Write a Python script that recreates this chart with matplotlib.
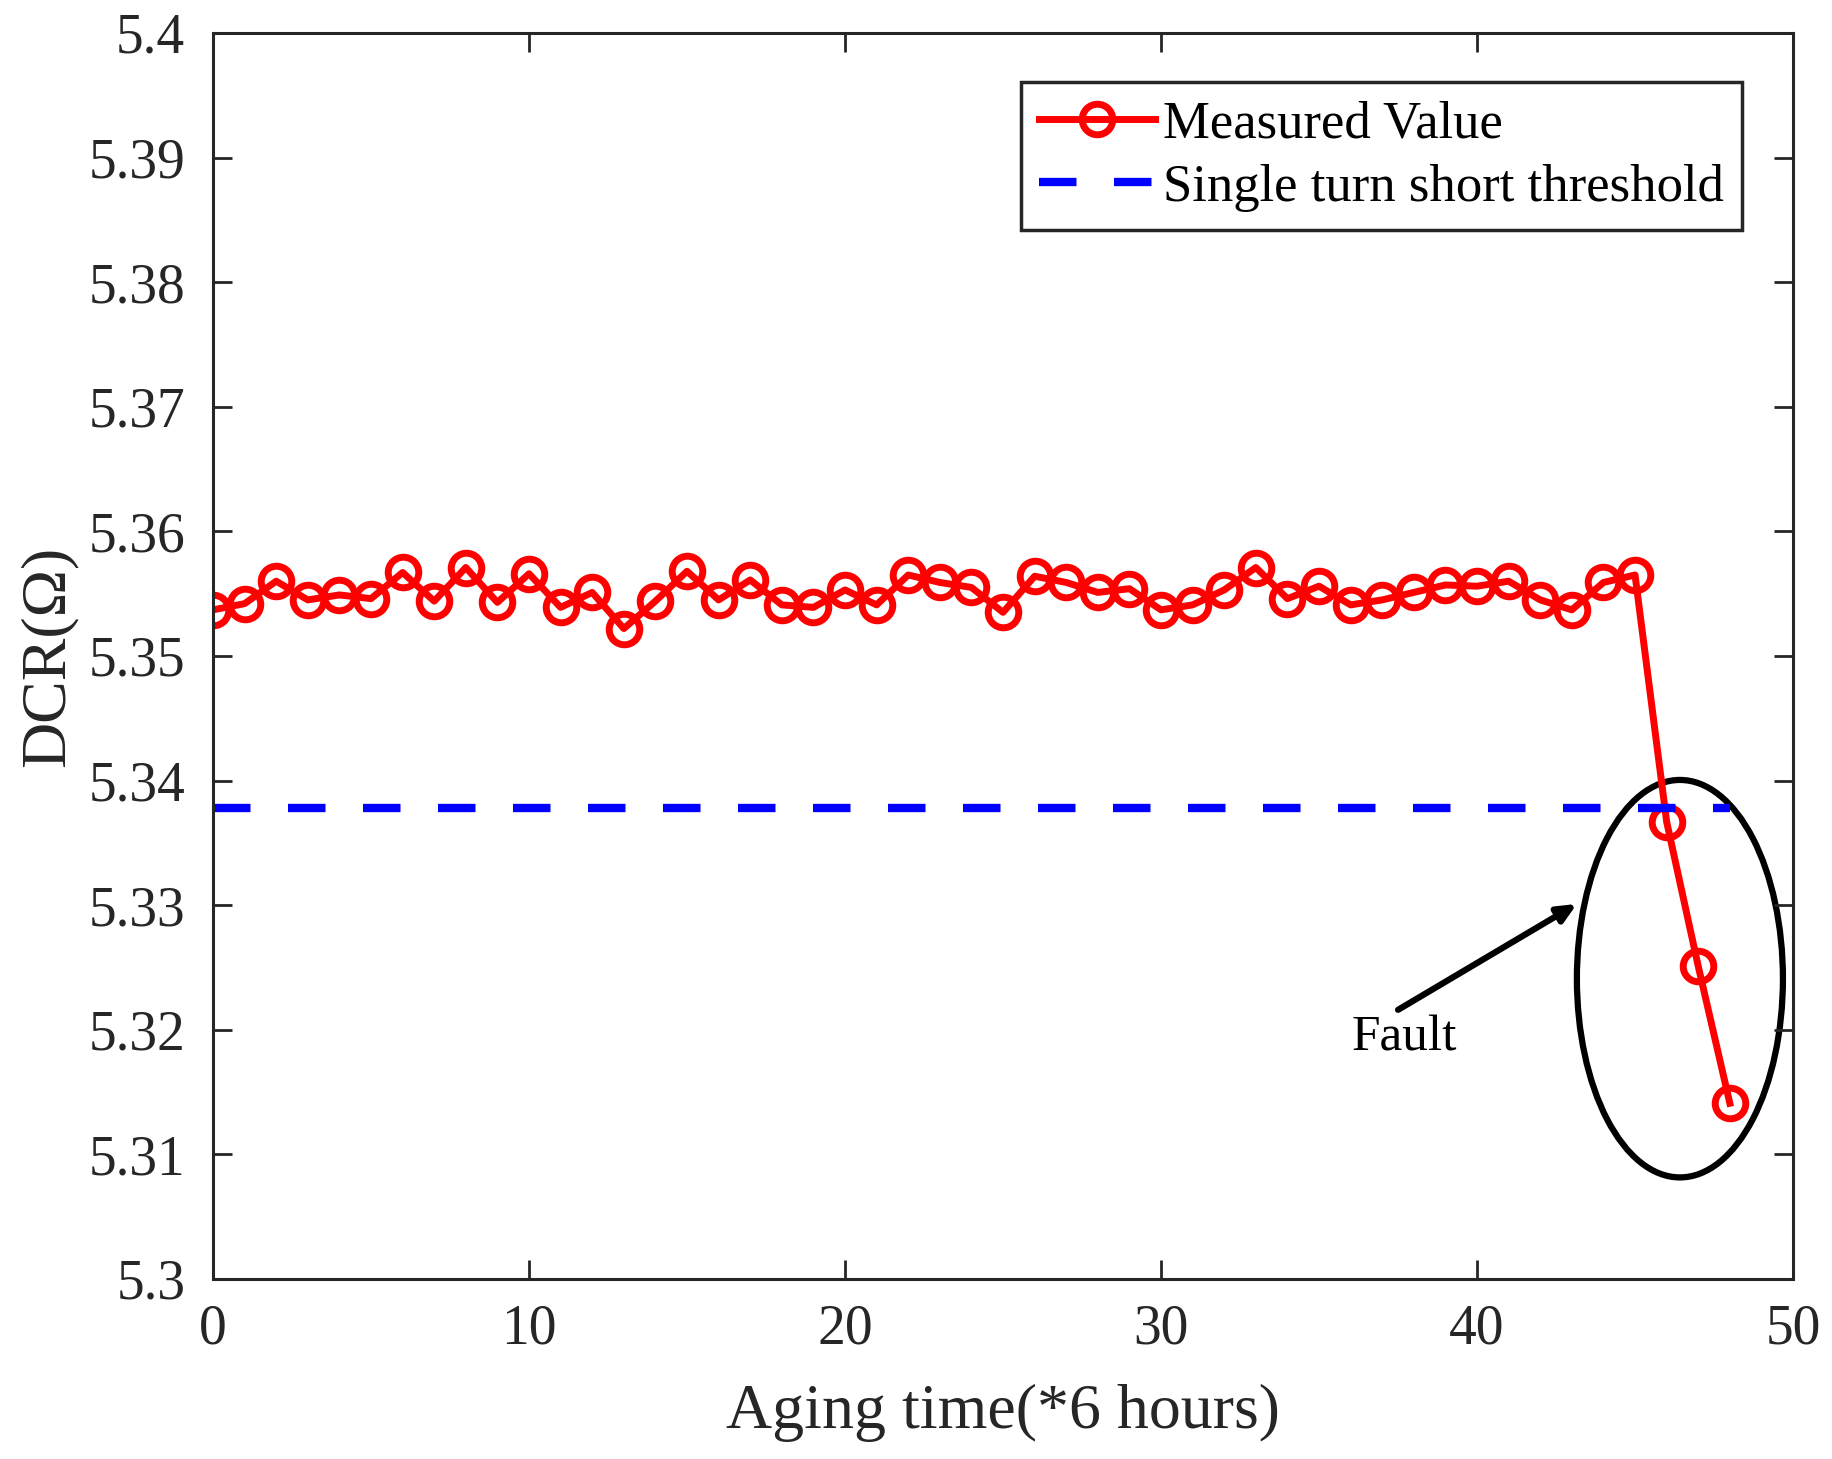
import numpy as np
import matplotlib
matplotlib.use('Agg')
import matplotlib.pyplot as plt
from matplotlib.patches import Ellipse
from matplotlib.ticker import FuncFormatter

plt.rcParams['font.family'] = ['Liberation Serif', 'DejaVu Serif']

# measured DCR values (ohm) per aging step
aging_time = np.arange(0, 49)
dcr = [5.3537, 5.3542, 5.3560, 5.3545, 5.3549, 5.3546, 5.3567, 5.3544, 5.3571, 5.3543,
       5.3566, 5.3539, 5.3551, 5.3522, 5.3544, 5.3568, 5.3545, 5.3561, 5.3541, 5.3539,
       5.3553, 5.3541, 5.3565, 5.3559, 5.3555, 5.3535, 5.3564, 5.3559, 5.3551, 5.3554,
       5.3537, 5.3541, 5.3553, 5.3571, 5.3546, 5.3556, 5.3541, 5.3545, 5.3551, 5.3557,
       5.3556, 5.3560, 5.3545, 5.3537, 5.3559, 5.3565, 5.3367, 5.3251, 5.3141]
threshold = 5.3378
threshold_x = [0, 48]
x_ticks = [0, 10, 20, 30, 40, 50]
y_ticks = [5.30, 5.31, 5.32, 5.33, 5.34, 5.35, 5.36, 5.37, 5.38, 5.39, 5.40]

fig = plt.figure(figsize=(18.33, 14.59), dpi=100)
ax = fig.add_axes([0.1162, 0.1234, 0.862, 0.854])

ax.plot(aging_time, dcr, color='red', lw=5, marker='o', markersize=22,
        markerfacecolor='none', markeredgewidth=5, label='Measured Value')
ax.plot(threshold_x, [threshold, threshold], color='blue', lw=6,
        linestyle=(0, (4.5, 4.5)), label='Single turn short threshold')

# fault annotation
ax.add_patch(Ellipse((46.42, 5.3241), 6.52, 0.0319, fill=False, edgecolor='black', lw=4.5))
ax.annotate('', xy=(43.16, 5.3301), xytext=(37.5, 5.3216),
            arrowprops=dict(arrowstyle='-|>,head_length=1.1,head_width=0.5',
                            color='black', lw=4.5, shrinkA=0, shrinkB=0))
ax.text(37.7, 5.3193, 'Fault', fontsize=37, ha='center', va='center', color='black')

ax.set_xlim(0, 50)
ax.set_ylim(5.3, 5.4)
ax.set_xticks(x_ticks)
ax.set_yticks(y_ticks)
ax.yaxis.set_major_formatter(FuncFormatter(lambda v, p: '%g' % round(v, 2)))
ax.tick_params(direction='in', length=14, width=2, colors='#262626', labelsize=40,
               top=True, right=True)
ax.tick_params(axis='y', pad=20)
ax.tick_params(axis='x', pad=18)
for s in ax.spines.values():
    s.set_linewidth(2.2)
    s.set_color('#262626')

ax.set_xlabel('Aging time(*6 hours)', fontsize=46, color='#262626', labelpad=20)
ax.set_ylabel('DCR(Ω)', fontsize=46, color='#262626', labelpad=8)

leg = ax.legend(loc='upper right', bbox_to_anchor=(0.968, 0.961), fontsize=38,
                fancybox=False, edgecolor='#262626', framealpha=1,
                handlelength=2.2, handletextpad=0.15, borderpad=0.35,
                labelspacing=0.3, borderaxespad=0)
leg.get_frame().set_linewidth(2.5)

fig.savefig('out.png', dpi=100)
